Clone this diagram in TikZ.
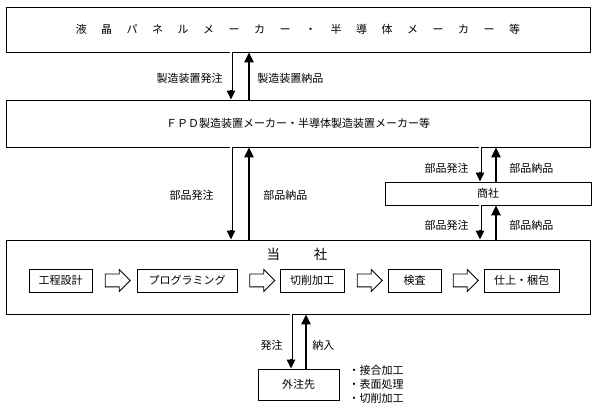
\documentclass[tikz,border=0pt]{standalone}
\usepackage{fontspec}
\setmainfont{Noto Sans CJK JP}
\usetikzlibrary{positioning}
\usetikzlibrary{arrows.meta,shapes.arrows}

\begin{document}
\begin{tikzpicture}[
      x=1pt, y=-1pt,
      font=\fontsize{11}{14}\selectfont,
      type-frame/.style={rectangle, draw, line width=0.8pt, inner sep=0pt},
      type-step/.style={rectangle, draw, line width=0.8pt, minimum height=23pt, inner sep=0pt},
      type-next/.style={single arrow, draw, line width=0.8pt, inner sep=6pt, minimum height=25pt,
        single arrow head extend=4.5pt, single arrow head indent=0pt},
      order/.style={line width=3pt, -{Triangle[width=8pt,length=9pt]},
        postaction={draw, white, line width=1.6pt, -, shorten >=9.5pt}},
      deliver/.style={line width=2.6pt, -{Triangle[width=9pt,length=10pt]}},
      label-l/.style={left=7pt, inner sep=0pt},
      label-r/.style={right=7pt, inner sep=0pt}
    ]
      \useasboundingbox (0,0) rectangle (600,419);
      % outer frames
      \node[type-frame, minimum width=584pt, minimum height=45pt] (maker) at (298,29.5)
        {\spaceskip=14.5pt 液 晶 パ ネ ル メ ー カ ー ・ 半 導 体 メ ー カ ー 等};
      \node[type-frame, minimum width=584pt, minimum height=47pt] (fpd) at (298,123.5)
        {ＦＰＤ製造装置メーカー・半導体製造装置メーカー等};
      \node[type-frame, minimum width=206pt, minimum height=23pt] (trader) at (488,193.5) {商社};
      \node[type-frame, minimum width=584pt, minimum height=74pt] (company) at (298,277) {};
      \node (title) at (297,254) {\fontsize{13.5}{15}\selectfont 当\hspace{34pt}社};
      \node[type-frame, minimum width=81pt, minimum height=31pt] (sub) at (298.5,384.5) {外注先};
      \node[anchor=west, align=left, inner sep=0pt] (works) at ([xshift=9pt]sub.east)
        {・接合加工\\・表面処理\\・切削加工};

      % process steps
      \node[type-step, minimum width=63pt] (design) at (60.5,280.5) {工程設計};
      \node[type-step, minimum width=100pt] (program) at (187,280.5) {プログラミング};
      \node[type-step, minimum width=64pt] (cut) at (312,280.5) {切削加工};
      \node[type-step, minimum width=53pt] (check) at (414.5,280.5) {検査};
      \node[type-step, minimum width=75pt] (finish) at (521.5,280.5) {仕上・梱包};
      \node[type-next] (n1) at (114.5,280.5) {};
      \node[type-next] (n2) at (259,280.5) {};
      \node[type-next] (n3) at (366.5,280.5) {};
      \node[type-next] (n4) at (462.5,280.5) {};

      % arrow columns
      \coordinate (xa) at (231,0);
      \coordinate (xb) at (249,0);
      \coordinate (xc) at (480,0);
      \coordinate (xd) at (496,0);
      \coordinate (xe) at (291,0);
      \coordinate (xf) at (306,0);

      \draw[order] (maker.south -| xa) -- node[pos=.55, label-l] {製造装置発注} (fpd.north -| xa);
      \draw[deliver] (fpd.north -| xb) -- node[pos=.45, label-r] {製造装置納品} (maker.south -| xb);
      \draw[order] (fpd.south -| xa) -- node[pos=.52, left=16pt, inner sep=0pt] {部品発注} (company.north -| xa);
      \draw[deliver] (company.north -| xb) -- node[pos=.48, right=13pt, inner sep=0pt] {部品納品} (fpd.south -| xb);
      \draw[order] (fpd.south -| xc) -- node[pos=.6, left=10pt, inner sep=0pt] {部品発注} (trader.north -| xc);
      \draw[deliver] (trader.north -| xd) -- node[pos=.4, right=12pt, inner sep=0pt] {部品納品} (fpd.south -| xd);
      \draw[order] (trader.south -| xc) -- node[pos=.58, left=10pt, inner sep=0pt] {部品発注} (company.north -| xc);
      \draw[deliver] (company.north -| xd) -- node[pos=.42, right=12pt, inner sep=0pt] {部品納品} (trader.south -| xd);
      \draw[order] (company.south -| xe) -- node[pos=.57, label-l] {発注} (sub.north -| xe);
      \draw[deliver] (sub.north -| xf) -- node[pos=.43, right=5pt, inner sep=0pt] {納入} (company.south -| xf);
    \end{tikzpicture}
\end{document}
